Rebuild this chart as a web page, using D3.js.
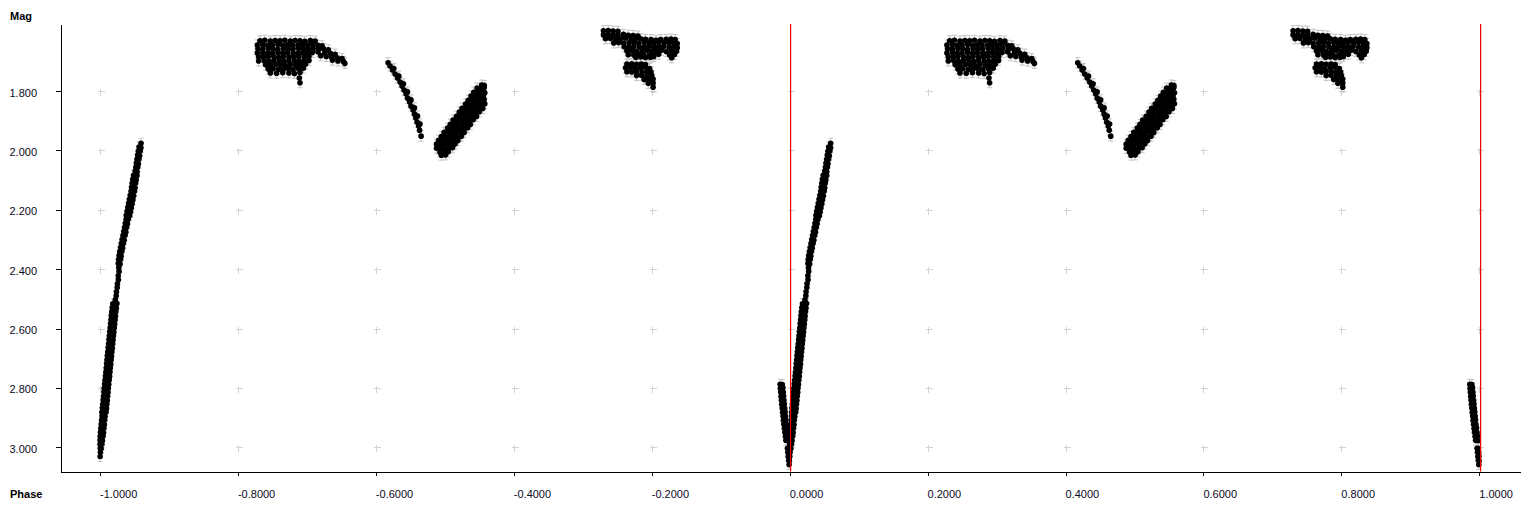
<!DOCTYPE html>
<html><head><meta charset="utf-8">
<script src="https://cdn.jsdelivr.net/npm/d3@7"></script>
<style>
body{margin:0;background:#fff;}
svg{display:block;font-family:"Liberation Sans",Arial,sans-serif;}
</style>
</head><body>
<svg id="chart" width="1536" height="512"></svg>
<script>
// ---------- data (phase 0..1, magnitude) ----------
const xTicks = [-1.0,-0.8,-0.6,-0.4,-0.2,0.0,0.2,0.4,0.6,0.8,1.0];
const yTicks = [1.8,2.0,2.2,2.4,2.6,2.8,3.0];
const markerPhases = [0.0, 1.0];
const magError = 0.017;

// steep rise after minimum (phase 0.00 - 0.06)
const riseFromMinimum = [
 [0.0595,1.976],[0.0566,1.989],[0.0594,1.991],[0.0556,2.003],[0.0584,2.002],[0.0547,2.016],[0.0575,2.018],
 [0.0537,2.030],[0.0565,2.029],[0.0528,2.043],[0.0556,2.045],[0.0520,2.057],[0.0548,2.056],[0.0510,2.070],[0.0538,2.072],
 [0.0487,2.084],[0.0537,2.085],[0.0475,2.097],[0.0525,2.099],[0.0467,2.111],[0.0517,2.110],[0.0458,2.124],[0.0508,2.126],
 [0.0451,2.138],[0.0501,2.137],[0.0439,2.151],[0.0489,2.153],[0.0427,2.165],[0.0477,2.166],[0.0416,2.178],[0.0466,2.180],
 [0.0404,2.192],[0.0454,2.193],[0.0393,2.205],[0.0443,2.207],[0.0381,2.219],[0.0431,2.220],
 [0.0379,2.233],[0.0409,2.232],[0.0368,2.246],[0.0398,2.247],[0.0356,2.260],[0.0386,2.259],[0.0345,2.273],[0.0375,2.275],
 [0.0333,2.287],[0.0363,2.286],[0.0321,2.300],[0.0351,2.302],[0.0310,2.314],[0.0340,2.313],[0.0298,2.327],[0.0328,2.329],
 [0.0287,2.341],[0.0317,2.340],[0.0277,2.354],[0.0307,2.356],[0.0269,2.368],[0.0299,2.367],[0.0265,2.381],[0.0291,2.383],
 [0.0273,2.395],[0.0276,2.408],[0.0264,2.422],[0.0267,2.436],[0.0252,2.449],[0.0250,2.462],[0.0238,2.476],[0.0235,2.490],[0.0222,2.503],
 [0.0186,2.517],[0.0246,2.516],[0.0177,2.530],[0.0237,2.531],[0.0170,2.544],[0.0230,2.543],[0.0164,2.557],[0.0224,2.558],
 [0.0159,2.571],[0.0219,2.570],[0.0153,2.584],[0.0213,2.585],[0.0147,2.598],[0.0207,2.597],[0.0141,2.611],[0.0201,2.612],
 [0.0135,2.625],[0.0195,2.624],[0.0130,2.638],[0.0190,2.639],[0.0124,2.652],[0.0184,2.651],[0.0118,2.665],[0.0178,2.666],
 [0.0112,2.679],[0.0172,2.678],[0.0106,2.692],[0.0166,2.693],[0.0101,2.706],[0.0161,2.705],[0.0096,2.719],[0.0156,2.720],
 [0.0090,2.733],[0.0150,2.732],[0.0085,2.747],[0.0145,2.746],[0.0079,2.760],[0.0139,2.761],[0.0073,2.774],[0.0133,2.773],
 [0.0067,2.787],[0.0127,2.788],[0.0061,2.801],[0.0121,2.800],[0.0057,2.814],[0.0117,2.815],[0.0051,2.828],[0.0111,2.827],
 [0.0045,2.841],[0.0105,2.842],[0.0040,2.855],[0.0100,2.854],[0.0034,2.868],[0.0094,2.869],[0.0028,2.882],[0.0088,2.881],
 [0.0030,2.895],[0.0074,2.896],[0.0024,2.909],[0.0068,2.908],[0.0019,2.922],[0.0063,2.923],[0.0013,2.936],[0.0057,2.935],
 [0.0007,2.949],[0.0051,2.950],[0.0003,2.963],[0.0045,2.962],[0.0002,2.976],[0.0035,2.977],[0.0001,2.990],[0.0028,2.989],
 [0.0004,3.003],[0.0018,3.004],[0.0006,3.017],[0.0002,3.031]
];

// first maximum (phase 0.23 - 0.36)
const firstMaximum = [
 [0.232,1.631],[0.239,1.629],[0.247,1.632],[0.254,1.630],[0.261,1.631],[0.268,1.629],[0.276,1.632],[0.283,1.630],[0.290,1.631],[0.297,1.633],[0.305,1.630],[0.312,1.632],
 [0.228,1.645],[0.236,1.644],[0.243,1.646],[0.250,1.645],[0.258,1.643],[0.265,1.646],[0.272,1.644],[0.279,1.645],[0.287,1.646],[0.294,1.644],[0.301,1.645],[0.308,1.643],[0.316,1.646],[0.322,1.648],
 [0.229,1.658],[0.236,1.659],[0.244,1.657],[0.251,1.658],[0.258,1.660],[0.266,1.657],[0.273,1.659],[0.280,1.658],[0.288,1.657],[0.295,1.659],[0.302,1.658],[0.309,1.656],[0.317,1.659],[0.324,1.657],[0.331,1.661],
 [0.228,1.672],[0.236,1.671],[0.243,1.673],[0.250,1.672],[0.258,1.670],[0.265,1.673],[0.272,1.671],[0.280,1.672],[0.287,1.673],[0.294,1.671],[0.301,1.672],[0.308,1.670],[0.316,1.668],[0.326,1.671],[0.334,1.673],[0.341,1.676],
 [0.230,1.685],[0.237,1.686],[0.244,1.684],[0.252,1.685],[0.259,1.687],[0.266,1.684],[0.274,1.686],[0.281,1.685],[0.288,1.684],[0.296,1.686],[0.303,1.683],[0.320,1.681],[0.328,1.684],[0.336,1.686],[0.344,1.688],[0.351,1.691],
 [0.230,1.699],[0.238,1.698],[0.245,1.700],[0.252,1.699],[0.260,1.697],[0.267,1.700],[0.274,1.698],[0.282,1.699],[0.289,1.700],[0.296,1.698],[0.303,1.697],[0.337,1.696],[0.345,1.699],[0.353,1.701],
 [0.240,1.712],[0.247,1.713],[0.255,1.711],[0.262,1.712],[0.269,1.714],[0.276,1.711],[0.284,1.713],[0.291,1.712],[0.298,1.710],[0.355,1.707],
 [0.244,1.726],[0.251,1.725],[0.259,1.727],[0.266,1.726],[0.273,1.724],[0.280,1.727],[0.288,1.725],[0.295,1.723],
 [0.247,1.739],[0.256,1.740],[0.265,1.738],[0.274,1.739],[0.282,1.741],[0.290,1.738],
 [0.289,1.756],[0.290,1.772]
];

// decline (phase 0.41 - 0.47)
const decline = [
 [0.4177,1.705],[0.4206,1.716],[0.4242,1.729],[0.4279,1.743],[0.4315,1.756],[0.4351,1.770],[0.4380,1.783],[0.4409,1.797],
 [0.4438,1.810],[0.4460,1.824],[0.4489,1.837],[0.4510,1.851],[0.4540,1.864],[0.4560,1.878],[0.4580,1.891],[0.4598,1.905],
 [0.4620,1.918],[0.4634,1.932],[0.4656,1.952],
 [0.4260,1.724],[0.4333,1.750],[0.4400,1.776],[0.4459,1.803],[0.4510,1.830],[0.4560,1.857],[0.4605,1.884],[0.4640,1.911]
];

// secondary rise (phase 0.48 - 0.56)
const secondRise = [
 [0.5535,1.780],[0.5572,1.782],
 [0.5468,1.790],[0.5526,1.791],[0.5570,1.789],
 [0.542,1.804],[0.548,1.805],[0.554,1.803],[0.558,1.806],
 [0.538,1.817],[0.544,1.816],[0.550,1.818],[0.556,1.817],
 [0.534,1.831],[0.540,1.830],[0.546,1.832],[0.552,1.831],[0.557,1.829],
 [0.530,1.844],[0.536,1.845],[0.542,1.843],[0.548,1.844],[0.554,1.846],[0.558,1.843],
 [0.525,1.858],[0.531,1.857],[0.537,1.859],[0.543,1.858],[0.549,1.856],[0.555,1.859],
 [0.521,1.871],[0.527,1.872],[0.533,1.870],[0.539,1.871],[0.545,1.873],[0.550,1.870],
 [0.517,1.885],[0.523,1.884],[0.529,1.886],[0.535,1.885],[0.541,1.883],[0.546,1.886],
 [0.512,1.898],[0.518,1.899],[0.524,1.897],[0.530,1.898],[0.536,1.900],[0.541,1.897],
 [0.508,1.912],[0.514,1.911],[0.520,1.913],[0.526,1.912],[0.532,1.910],[0.537,1.913],
 [0.504,1.925],[0.510,1.926],[0.516,1.924],[0.522,1.925],[0.528,1.927],[0.533,1.924],
 [0.499,1.939],[0.505,1.938],[0.511,1.940],[0.517,1.939],[0.523,1.937],[0.528,1.940],
 [0.495,1.953],[0.501,1.954],[0.507,1.952],[0.513,1.953],[0.519,1.955],[0.524,1.952],
 [0.491,1.966],[0.497,1.965],[0.503,1.967],[0.509,1.966],[0.515,1.964],[0.519,1.967],
 [0.488,1.979],[0.494,1.980],[0.500,1.978],[0.506,1.979],[0.512,1.981],[0.515,1.978],
 [0.488,1.993],[0.494,1.992],[0.500,1.994],[0.506,1.993],[0.511,1.991],
 [0.493,2.006],[0.499,2.007],[0.505,2.005],
 [0.495,2.016],[0.501,2.015]
];

// second maximum (phase 0.73 - 0.84)
const secondMaximum = [
 [0.730,1.597],[0.737,1.596],[0.744,1.598],[0.751,1.599],
 [0.730,1.611],[0.737,1.610],[0.744,1.612],[0.751,1.611],[0.759,1.609],[0.766,1.612],[0.773,1.613],[0.780,1.615],
 [0.733,1.624],[0.740,1.623],[0.748,1.625],[0.755,1.624],[0.762,1.622],[0.770,1.625],[0.777,1.623],[0.784,1.624],[0.791,1.626],[0.799,1.627],[0.806,1.629],[0.813,1.627],[0.821,1.626],[0.828,1.625],[0.834,1.627],
 [0.745,1.638],[0.752,1.637],[0.759,1.639],[0.767,1.638],[0.774,1.636],[0.781,1.639],[0.789,1.637],[0.796,1.638],[0.803,1.639],[0.810,1.637],[0.818,1.638],[0.825,1.636],[0.832,1.639],[0.837,1.640],
 [0.760,1.651],[0.767,1.652],[0.774,1.650],[0.782,1.651],[0.789,1.653],[0.796,1.650],[0.803,1.652],[0.810,1.651],[0.817,1.650],[0.825,1.652],[0.832,1.651],[0.837,1.654],
 [0.764,1.665],[0.771,1.664],[0.778,1.666],[0.786,1.665],[0.793,1.663],[0.800,1.666],[0.807,1.664],[0.814,1.663],[0.821,1.667],[0.829,1.665],[0.836,1.666],
 [0.766,1.678],[0.774,1.679],[0.781,1.677],[0.788,1.678],[0.796,1.680],[0.803,1.677],[0.810,1.676],[0.826,1.679],[0.833,1.677],
 [0.777,1.686],[0.784,1.685],[0.791,1.687],[0.798,1.686],[0.803,1.684],[0.829,1.688],
 [0.764,1.709],[0.771,1.708],[0.778,1.710],[0.785,1.709],[0.791,1.711],
 [0.762,1.722],[0.769,1.721],[0.776,1.723],[0.784,1.722],[0.791,1.720],[0.797,1.724],
 [0.764,1.735],[0.771,1.736],[0.778,1.734],[0.786,1.735],[0.793,1.737],[0.799,1.736],
 [0.778,1.748],[0.785,1.747],[0.793,1.749],[0.800,1.748],
 [0.789,1.761],[0.796,1.762],[0.802,1.760],
 [0.795,1.774],[0.802,1.773],
 [0.802,1.787]
];

// descent into minimum (phase 0.98 - 1.00)
const descentToMinimum = [
 [0.9862,2.788],[0.9892,2.789],[0.9866,2.801],[0.9902,2.800],[0.9870,2.814],[0.9907,2.815],[0.9876,2.828],[0.9912,2.827],
 [0.9880,2.841],[0.9917,2.842],[0.9886,2.855],[0.9923,2.854],[0.9892,2.868],[0.9928,2.869],[0.9898,2.882],[0.9934,2.881],
 [0.9904,2.895],[0.9940,2.896],[0.9910,2.909],[0.9945,2.908],[0.9917,2.922],[0.9952,2.923],[0.9924,2.936],[0.9960,2.935],
 [0.9931,2.949],[0.9967,2.950],[0.9939,2.963],[0.9974,2.962],[0.9946,2.976],[0.9981,2.977],
 [0.9968,3.003],[0.9986,3.004],[0.9974,3.017],[0.9991,3.018],[0.9979,3.031],[0.9994,3.030],
 [0.9986,3.044],[0.9996,3.045],[0.9992,3.058]
];

// ---------- chart ----------
const svg = d3.select("#chart");
const plotLeft = 60.5, plotRight = 1520, plotTop = 24, plotBottom = 471.5;

// scales anchored on tick positions, then extended to the plot frame
const xBase = d3.scaleLinear().domain([-1, 1]).range([100, 1479.3]);
const yBase = d3.scaleLinear().domain([1.8, 3.0]).range([91, 447.3]);
const x = d3.scaleLinear().domain([xBase.invert(plotLeft), xBase.invert(plotRight)]).range([plotLeft, plotRight]);
const y = d3.scaleLinear().domain([yBase.invert(plotTop), yBase.invert(plotBottom)]).range([plotTop, plotBottom]);

const crisp = v => Math.round(v) + 0.5;

// grid crosses
const crosses = [];
xTicks.forEach(xt => yTicks.forEach(yt => crosses.push([xt, yt])));
const gGrid = svg.append("g").attr("stroke", "#d4d4d4").attr("stroke-width", 1).attr("shape-rendering", "crispEdges");
gGrid.selectAll("path").data(crosses).join("path")
  .attr("d", d => {
    const cx = crisp(x(d[0])), cy = crisp(y(d[1]));
    return `M${cx-3},${cy}H${cx+4}M${cx},${cy-3}V${cy+4}`;
  });

// axes
const yAxis = d3.axisLeft(y).tickValues(yTicks).tickFormat(d3.format(".3f")).tickSizeInner(5).tickSizeOuter(0).tickPadding(18);
const gy = svg.append("g").attr("transform", `translate(${plotLeft},0)`).call(yAxis);
gy.select(".domain").attr("stroke", "#000").attr("shape-rendering", "crispEdges");
gy.selectAll(".tick line").attr("stroke", "#000").attr("shape-rendering", "crispEdges");
gy.selectAll(".tick text").attr("font-size", 11).attr("font-family", "Liberation Sans, Arial, sans-serif")
  .attr("fill", "#0a0a1e").attr("dy", "5").attr("x", -23.5);

const xAxis = d3.axisBottom(x).tickValues(xTicks).tickFormat(d3.format(".4f")).tickSizeInner(4).tickSizeOuter(0);
const gx = svg.append("g").attr("transform", `translate(0,${plotBottom})`).call(xAxis);
gx.select(".domain").attr("stroke", "#000").attr("shape-rendering", "crispEdges");
gx.selectAll(".tick line").attr("stroke", "#000").attr("shape-rendering", "crispEdges");
gx.selectAll(".tick text").attr("font-size", 11).attr("font-family", "Liberation Sans, Arial, sans-serif")
  .attr("fill", "#0a0a1e").attr("text-anchor", "start").attr("x", -0.5).attr("y", 26.5).attr("dy", 0)
  .text(d => d3.format(".4f")(d).replace("\u2212", "-"));

// axis titles
svg.append("text").attr("x", 10).attr("y", 20).attr("font-size", 11).attr("font-weight", "bold").text("Mag");
svg.append("text").attr("x", 10).attr("y", 498).attr("font-size", 11).attr("font-weight", "bold").text("Phase");

// data folded into two cycles: phase and phase - 1
const allPoints = [].concat(riseFromMinimum, firstMaximum, decline, secondRise, secondMaximum, descentToMinimum);
const plotted = [];
allPoints.forEach(([p, m]) => { plotted.push([p, m]); plotted.push([p - 1, m]); });

// error bars
const gErr = svg.append("g").attr("stroke", "#c4c4c4").attr("stroke-width", 1).attr("fill", "none");
gErr.selectAll("path").data(plotted).join("path")
  .attr("d", d => {
    const cx = x(d[0]), y1 = y(d[1] - magError), y2 = y(d[1] + magError);
    return `M${cx},${y1}V${y2}M${cx-2.5},${y1}H${cx+2.5}M${cx-2.5},${y2}H${cx+2.5}`;
  });

// points
svg.append("g").attr("fill", "#000").selectAll("circle").data(plotted).join("circle")
  .attr("cx", d => x(d[0])).attr("cy", d => y(d[1])).attr("r", 2.8);

// red phase markers, drawn over the points
svg.append("g").attr("class", "phase-markers").selectAll("rect").data(markerPhases).join("rect")
  .attr("x", d => Math.ceil(x(d))).attr("width", 1.2)
  .attr("y", plotTop).attr("height", plotBottom - plotTop)
  .attr("fill", "#f00000");
</script>
</body></html>
